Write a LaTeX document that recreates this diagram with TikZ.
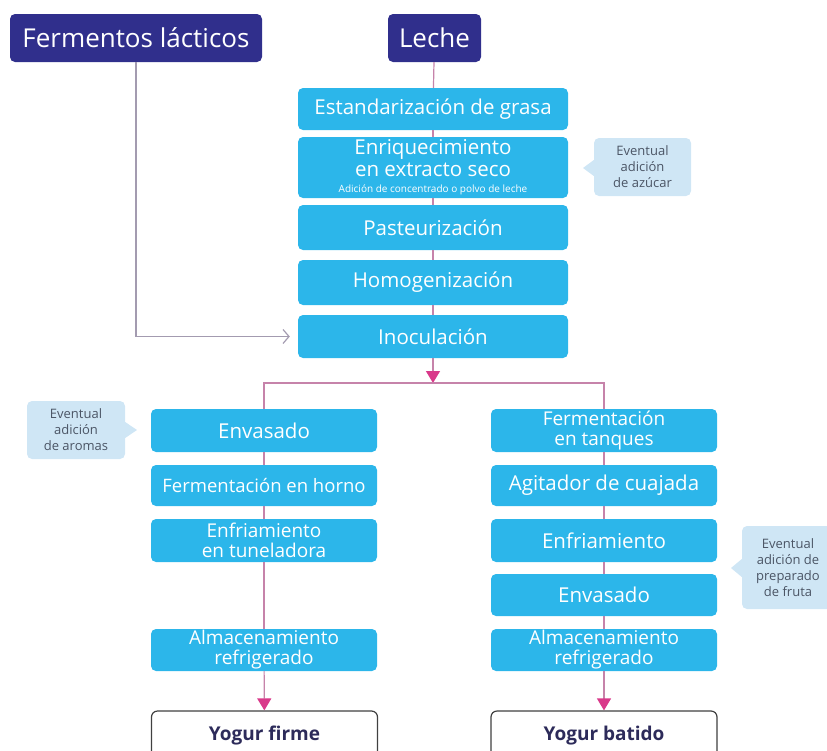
\documentclass[tikz,border=0pt]{standalone}
\usepackage{fontspec}
\setmainfont{Open Sans}
\usetikzlibrary{arrows.meta}
\definecolor{navy}{HTML}{302F8C}
\definecolor{procblue}{HTML}{2CB6EA}
\definecolor{notefill}{HTML}{CFE6F5}
\definecolor{notetext}{HTML}{4B5565}
\definecolor{flow}{HTML}{C683AA}
\definecolor{tipcol}{HTML}{D9398A}
\definecolor{feed}{HTML}{A39BB0}
\definecolor{endtext}{HTML}{2D2B5A}
\tikzset{
  source/.style={fill=navy, text=white, rounded corners=5pt, inner sep=0pt,
    font=\fontsize{26}{30}\selectfont},
  proc/.style={fill=procblue, text=white, rounded corners=5pt, inner sep=0pt,
    align=center, font=\fontsize{20.5}{22}\selectfont},
  col/.style={proc, minimum width=226pt},
  twoline/.style={font=\fontsize{19}{20}\selectfont},
  wide/.style={proc, minimum width=270pt},
  product/.style={draw=black!75, line width=1.2pt, fill=white, rounded corners=6pt,
    inner sep=0pt, minimum width=226pt, minimum height=50pt, text=endtext,
    font=\bfseries\fontsize{19}{22}\selectfont},
  note/.style={fill=notefill, text=notetext, rounded corners=5pt, inner sep=0pt,
    align=center, font=\fontsize{13}{16}\selectfont},
  link/.style={draw=flow, line width=1.2pt},
  arrowlink/.style={link, -{Triangle[width=14pt,length=12pt,color=tipcol]}},
}
\begin{document}
\begin{tikzpicture}[x=1pt,y=-1pt]
\useasboundingbox (0,0) rectangle (827,750);
\clip (0,0) rectangle (827,750);

% raw materials
\node[source, minimum width=252pt, minimum height=48pt] (ferm) at (136,38) {Fermentos lácticos};
\node[source, minimum width=93pt, minimum height=48pt] (leche) at (434.5,38) {Leche};

% common treatment of the milk
\node[wide, minimum height=42pt] (std) at (433,109) {Estandarización de grasa};
\node[wide, minimum height=61pt] (enr) at (433,167.5) {Enriquecimiento\\en extracto seco\\[-6pt]{\fontsize{10}{11}\selectfont Adición de concentrado o polvo de leche}};
\node[wide, minimum height=45pt] (past) at (433,227.5) {Pasteurización};
\node[wide, minimum height=45pt] (homo) at (433,282.5) {Homogenización};
\node[wide, minimum height=43pt] (inoc) at (433,336.5) {Inoculación};

% set yogurt
\node[col, minimum height=43pt] (env1) at (264,430.5) {Envasado};
\node[col, minimum height=41pt, font=\fontsize{18.5}{20}\selectfont] (fh) at (264,485.5) {Fermentación en horno};
\node[col, twoline, minimum height=43pt] (ent) at (264,540.5) {Enfriamiento\\en tuneladora};
\node[col, twoline, minimum height=42pt] (alm1) at (264,650) {Almacenamiento\\refrigerado};
\node[product] (yf) at (264.5,736) {Yogur firme};

% stirred yogurt
\node[col, twoline, minimum height=43pt] (ft) at (604,430.5) {Fermentación\\en tanques};
\node[col, minimum height=41pt] (ag) at (604,485.5) {Agitador de cuajada};
\node[col, minimum height=43pt] (enf) at (604,540.5) {Enfriamiento};
\node[col, minimum height=42pt] (env2) at (604,595) {Envasado};
\node[col, twoline, minimum height=42pt] (alm2) at (604,650) {Almacenamiento\\refrigerado};
\node[product] (yb) at (604,736) {Yogur batido};

% optional additions
\node[note, minimum width=97pt, minimum height=58pt] (n1) at (642.5,167) {Eventual\\adición\\de azúcar};
\fill[notefill] (n1.west |- 0,160) -- (583,168) -- (n1.west |- 0,176) -- cycle;
\node[note, minimum width=98pt, minimum height=58pt] (n2) at (76,430) {Eventual\\adición\\de aromas};
\fill[notefill] (n2.east |- 0,422) -- (137,430) -- (n2.east |- 0,438) -- cycle;
\node[note, minimum width=92pt, minimum height=83pt] (n3) at (788,567.5) {Eventual\\adición de\\preparado\\de fruta};
\fill[notefill] (n3.west |- 0,559) -- (731,568) -- (n3.west |- 0,577) -- cycle;

% main line
\draw[link] (leche) -- (std);
\draw[link] (std) -- (enr);
\draw[link] (enr) -- (past);
\draw[link] (past) -- (homo);
\draw[link] (homo) -- (inoc);

% starter cultures into inoculation
\draw[draw=feed, line width=1.2pt, shorten >=8pt,
  -{Straight Barb[length=6pt,width=14pt,color=feed]}] (ferm.south) |- (inoc.west);

% split into the two products
\coordinate (split) at (433,383);
\draw[arrowlink] (inoc.south) -- (split);
\draw[link] (env1.north) -- (env1.north |- split) -- (ft.north |- split) -- (ft.north);

% set yogurt line
\draw[link] (env1) -- (fh);
\draw[link] (fh) -- (ent);
\draw[link] (ent) -- (alm1);
\draw[arrowlink] (alm1) -- (yf);

% stirred yogurt line
\draw[link] (ft) -- (ag);
\draw[link] (ag) -- (enf);
\draw[link] (enf) -- (env2);
\draw[link] (env2) -- (alm2);
\draw[arrowlink] (alm2) -- (yb);
\end{tikzpicture}
\end{document}
